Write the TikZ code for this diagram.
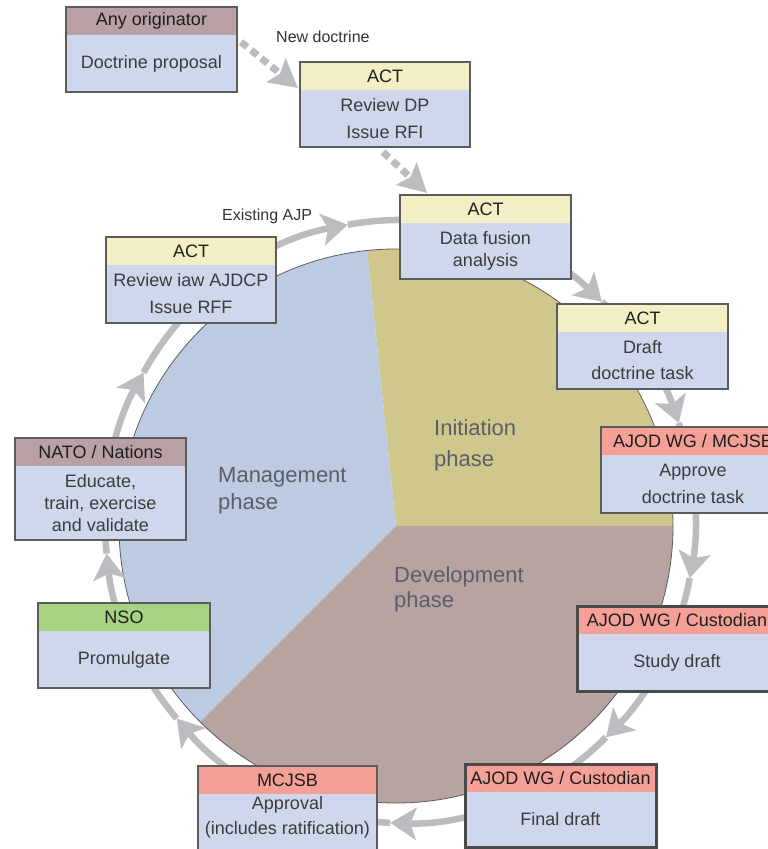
\documentclass[tikz,border=0pt]{standalone}
\usepackage{fontspec}
\setmainfont{Liberation Sans}
\usetikzlibrary{arrows.meta,calc}
\definecolor{bodyc}{HTML}{CFD7EC}
\definecolor{hyellow}{HTML}{F3EFC5}
\definecolor{hmauve}{HTML}{B8A0A5}
\definecolor{hsalmon}{HTML}{F5A097}
\definecolor{hgreen}{HTML}{A6D282}
\definecolor{pieblue}{HTML}{BCCBE1}
\definecolor{pieyellow}{HTML}{D0C78D}
\definecolor{piebrown}{HTML}{B7A3A2}
\definecolor{ringc}{HTML}{BBBCC0}
\definecolor{framec}{HTML}{5C5C5C}
\definecolor{framecd}{HTML}{4A4A4A}
\definecolor{bodytext}{HTML}{3C3C3C}
\definecolor{headtext}{HTML}{1E1E1E}
\definecolor{labeltext}{HTML}{333333}
\definecolor{phasetext}{HTML}{5B5E66}
\tikzset{
  boxbody/.style={rectangle, fill=bodyc, inner sep=0pt, outer sep=0pt},
  boxhead/.style={rectangle, inner sep=0pt, outer sep=0pt, minimum height=28pt,
    font=\fontsize{18}{22}\selectfont, text=headtext},
  boxtext/.style={inner sep=0pt, align=center, font=\fontsize{18}{27}\selectfont, text=bodytext},
  boxframe/.style={draw=framec, line width=1.5pt},
  thickframe/.style={draw=framecd, line width=3pt},
  ring/.style={draw=ringc, line width=6.5pt, -{Stealth[length=26pt,width=32pt,inset=6pt]}},
  dotconn/.style={draw=ringc, line width=7pt, dash pattern=on 8pt off 5pt,
    -{Stealth[length=28pt,width=30pt,inset=5pt]}},
  lbl/.style={inner sep=0pt, font=\fontsize{16}{19}\selectfont, text=labeltext},
  phase/.style={inner sep=0pt, align=left, font=\fontsize{22}{27}\selectfont, text=phasetext},
  pieline/.style={draw=framec, line width=0.8pt},
}
% #1 name, #2 top-left, #3 width, #4 height, #5 header colour, #6 header text,
% #7 body text, #8 frame style, #9 extra text options
\newcommand{\docbox}[9]{%
  \node[boxbody, anchor=north west, minimum width=#3pt, minimum height=#4pt] (#1) at #2 {};
  \node[boxhead, fill=#5, minimum width=#3pt, anchor=north] (#1h) at (#1.north) {#6};
  \node[boxtext, #9] (#1t) at ($(#1h.south)!0.5!(#1.south)$) {#7};
  \draw[#8] (#1.north west) rectangle (#1.south east);
}
\begin{document}
\begin{tikzpicture}[x=1pt, y=-1pt]
\useasboundingbox (0,0) rectangle (768,849);
% pie
\coordinate (P) at (396,526);
\fill[pieyellow] (P) -- ++(264:277) arc[start angle=264, end angle=360, radius=277] -- cycle;
\fill[pieblue] (P) -- ++(135:277) arc[start angle=135, end angle=264, radius=277] -- cycle;
\fill[piebrown] (P) -- ++(0:277) arc[start angle=0, end angle=135, radius=277] -- cycle;
\draw[pieline] (P) circle[radius=277];
% phase labels
\node[phase, anchor=west] (ph1) at (434,445) {Initiation\\[4pt]phase};
\node[phase, anchor=west] (ph2) at (218,491) {Management\\phase};
\node[phase, anchor=west] (ph3) at (394,589) {Development\\[-2pt]phase};
% ring
\coordinate (E) at (400,521.5);
\coordinate (t1) at ($(E)+(259.8:295 and 301.5)$);
\coordinate (t2) at ($(E)+(313.2:295 and 301.5)$);
\coordinate (t3) at ($(E)+(340.9:295 and 301.5)$);
\coordinate (t4) at ($(E)+(10.8:295 and 301.5)$);
\coordinate (t5) at ($(E)+(45.7:295 and 301.5)$);
\coordinate (t6) at ($(E)+(91.9:295 and 301.5)$);
\coordinate (t7) at ($(E)+(139.2:295 and 301.5)$);
\coordinate (t8) at ($(E)+(173.9:295 and 301.5)$);
\coordinate (t9) at ($(E)+(209.6:295 and 301.5)$);
\draw[ring] (t9) arc[start angle=209.6, end angle=259.8, x radius=295, y radius=301.5];
\draw[ring] (t1) arc[start angle=259.8, end angle=313.2, x radius=295, y radius=301.5];
\draw[ring] (t2) arc[start angle=313.2, end angle=340.9, x radius=295, y radius=301.5];
\draw[ring] (t3) arc[start angle=340.9, end angle=370.8, x radius=295, y radius=301.5];
\draw[ring] (t4) arc[start angle=10.8, end angle=45.7, x radius=295, y radius=301.5];
\draw[ring] (t5) arc[start angle=45.7, end angle=91.9, x radius=295, y radius=301.5];
\draw[ring] (t6) arc[start angle=91.9, end angle=139.2, x radius=295, y radius=301.5];
\draw[ring] (t7) arc[start angle=139.2, end angle=173.9, x radius=295, y radius=301.5];
\draw[ring] (t8) arc[start angle=173.9, end angle=209.6, x radius=295, y radius=301.5];
% boxes
\docbox{n1}{(66,7)}{171}{85}{hmauve}{Any originator}{Doctrine proposal}{boxframe}{}
\docbox{n2}{(300,62)}{170}{85}{hyellow}{ACT}{Review DP\\Issue RFI}{boxframe}{}
\docbox{n3}{(400,195)}{171}{84}{hyellow}{ACT}{Data fusion\\[-5pt]analysis}{boxframe}{}
\docbox{n4}{(557,304)}{171}{85}{hyellow}{ACT}{Draft\\[-1pt]doctrine task}{boxframe}{}
\docbox{n5}{(601,427)}{184}{86}{hsalmon}{AJOD WG / MCJSB}{Approve\\doctrine task}{boxframe}{}
\docbox{n6}{(577,606)}{200}{85}{hsalmon}{AJOD WG / Custodian}{Study draft}{thickframe}{}
\docbox{n7}{(465,764)}{191}{83}{hsalmon}{AJOD WG / Custodian}{Final draft}{thickframe}{}
\docbox{n8}{(198,766)}{179}{92}{hsalmon}{MCJSB}{Approval\\[-2pt](includes ratification)}{boxframe}{yshift=9pt}
\docbox{n9}{(38,603)}{172}{85}{hgreen}{NSO}{Promulgate}{boxframe}{}
\docbox{n10}{(15,438)}{171}{102}{hmauve}{NATO / Nations}{Educate,\\[-5pt]train, exercise\\[-5pt]and validate}{boxframe}{}
\docbox{n11}{(106,237)}{170}{86}{hyellow}{ACT}{Review iaw AJDCP\\Issue RFF}{boxframe}{}
% labels
\node[lbl, anchor=west] (lnew) at (276,37) {New doctrine};
\node[lbl, anchor=west] (lexist) at (222,216) {Existing AJP};
% dotted connectors
\draw[dotconn] ($(n1h.south east)+(4,7)$) -- ($(n2h.south west)+(-2,-2)$);
\draw[dotconn] ($(n2.south)+(-2,5)$) -- ($(n3.north west)+(27,-2)$);
\end{tikzpicture}
\end{document}
